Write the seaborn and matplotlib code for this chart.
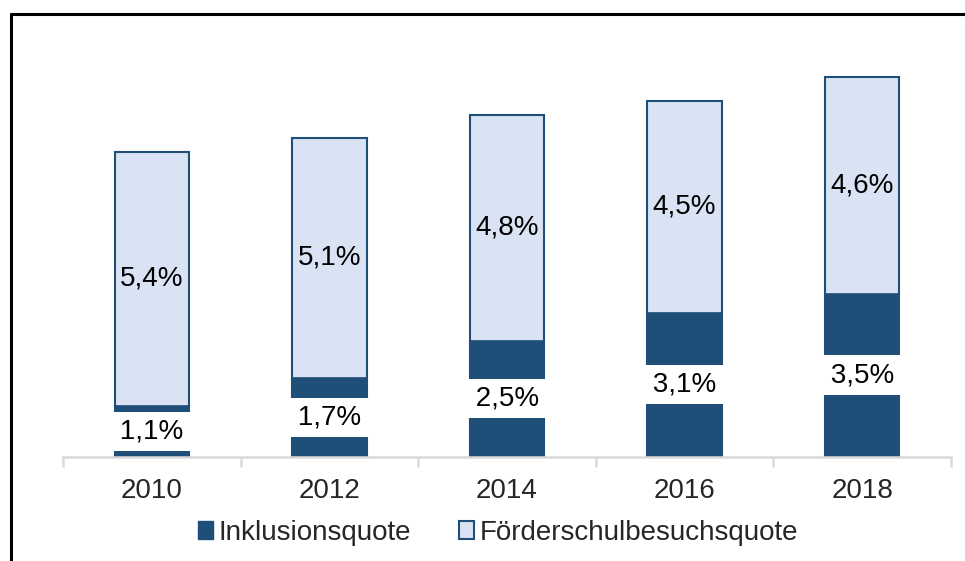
import pandas as pd
import matplotlib.pyplot as plt
import seaborn as sns
from matplotlib.patches import Patch
from matplotlib.lines import Line2D

# Daten (Werte in %)
jahre = ["2010", "2012", "2014", "2016", "2018"]
inklusion = [1.1, 1.7, 2.5, 3.1, 3.5]
foerderschule = [5.4, 5.1, 4.8, 4.5, 4.6]

df = pd.DataFrame({"Jahr": jahre, "Inklusion": inklusion, "Foerder": foerderschule})
df["Gesamt"] = df["Inklusion"] + df["Foerder"]

dunkel = "#1F4E79"
hell = "#DAE3F3"

sns.set_style("white")
plt.rcParams["font.family"] = ["Liberation Sans", "DejaVu Sans"]

fig = plt.figure(figsize=(9.65, 5.61), dpi=100)
ax = fig.add_axes([63 / 965, 1 - 457 / 561, (951 - 63) / 965, 417 / 561])

# Gesamtbalken (hell) und Inklusionsanteil (dunkel) darüber
sns.barplot(data=df, x="Jahr", y="Gesamt", color=hell, edgecolor=dunkel,
            linewidth=1.5, width=0.42, saturation=1, ax=ax)
sns.barplot(data=df, x="Jahr", y="Inklusion", color=dunkel, edgecolor=dunkel,
            linewidth=0.5, width=0.42, saturation=1, ax=ax)

ax.set_ylim(0, 8.9)
ax.set_xlim(-0.5, 4.5)

# Beschriftungen (weißer Kasten über dem dunklen Balken)
for i, row in df.iterrows():
    ax.text(i, row["Inklusion"] / 2, " " + f"{row['Inklusion']:.1f}%".replace(".", ",") + " ",
            ha="center", va="center", fontsize=20, color="black",
            bbox=dict(boxstyle="square,pad=0.24", facecolor="white", edgecolor="none"))
    ax.text(i, row["Inklusion"] + row["Foerder"] / 2,
            f"{row['Foerder']:.1f}%".replace(".", ","),
            ha="center", va="center", fontsize=20, color="black")

# Achsen
for s in ["left", "right", "top"]:
    ax.spines[s].set_visible(False)
ax.spines["bottom"].set_color("#d9d9d9")
ax.spines["bottom"].set_linewidth(1.8)
ax.set_yticks([])
ax.set_xlabel("")
ax.set_ylabel("")
ax.set_xticks([-0.5, 0.5, 1.5, 2.5, 3.5, 4.5], minor=True)
ax.tick_params(axis="x", which="minor", bottom=True, length=7, width=1.8,
               color="#d9d9d9", direction="out")
ax.tick_params(axis="x", which="major", bottom=True, length=0, pad=15, labelsize=20)

# Legende
handles = [Patch(facecolor=dunkel, edgecolor=dunkel, label="Inklusionsquote"),
           Patch(facecolor=hell, edgecolor=dunkel, linewidth=1.5, label="Förderschulbesuchsquote")]
fig.legend(handles=handles, loc="center", bbox_to_anchor=(498 / 965, 1 - 533 / 561), ncol=2,
           frameon=False, fontsize=20, handlelength=0.55, handleheight=0.6,
           handletextpad=0.2, columnspacing=1.7)

# Rahmen
fig.add_artist(Line2D([10.5 / 965, 10.5 / 965], [0, 1 - 14 / 561], color="black", linewidth=2.2,
                      transform=fig.transFigure))
fig.add_artist(Line2D([10.5 / 965, 1], [1 - 14 / 561, 1 - 14 / 561], color="black", linewidth=2.2,
                      transform=fig.transFigure))

fig.savefig("out.png", dpi=100)
